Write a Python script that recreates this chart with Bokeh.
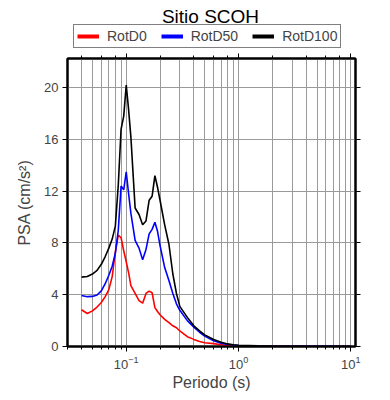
from bokeh.plotting import figure
from bokeh.layouts import column
from bokeh.models import LogAxis, LinearAxis, Legend, LegendItem, FixedTicker, LogTicker, Label
from bokeh.embed import file_html
from bokeh.resources import INLINE

periods = [0.04, 0.045, 0.05, 0.055, 0.06, 0.065, 0.07, 0.075, 0.08, 0.085, 0.09, 0.095,
           0.1, 0.105, 0.11, 0.12, 0.13, 0.14, 0.15, 0.16, 0.17, 0.18, 0.19, 0.2, 0.22,
           0.24, 0.26, 0.28, 0.3, 0.35, 0.4, 0.45, 0.5, 0.6, 0.7, 0.8, 0.9, 1.0, 1.5, 2.0,
           3.0, 4.0, 5.0, 7.0, 10.0]

rotd0 = [2.84, 2.55, 2.75, 3.05, 3.4, 3.85, 4.4, 5.4, 7.3, 8.6, 8.4, 7.4,
         6.55, 5.7, 4.7, 4.1, 3.55, 3.35, 4.1, 4.28, 4.15, 3.0, 2.7, 2.45, 2.1,
         1.85, 1.6, 1.45, 1.2, 0.76, 0.55, 0.38, 0.29, 0.22, 0.14, 0.07, 0.05, 0.04, 0.02, 0.01,
         0.008, 0.006, 0.005, 0.004, 0.003]

rotd50 = [3.94, 3.85, 3.87, 3.98, 4.3, 4.85, 5.5, 6.2, 7.2, 9.0, 12.4, 12.1,
          13.5, 11.8, 10.3, 8.2, 7.6, 6.7, 7.5, 8.7, 9.05, 9.6, 8.9, 7.8, 6.1,
          5.1, 4.1, 3.3, 2.8, 2.0, 1.5, 1.1, 0.8, 0.45, 0.26, 0.16, 0.11, 0.08, 0.04, 0.025,
          0.015, 0.01, 0.008, 0.006, 0.005]

rotd100 = [5.36, 5.41, 5.6, 5.88, 6.35, 6.95, 7.6, 8.3, 9.3, 12.5, 16.8, 17.8,
           20.2, 18.3, 16.2, 10.7, 10.2, 9.4, 9.7, 11.3, 11.6, 13.2, 12.3, 11.3, 9.4,
           7.9, 5.6, 4.1, 3.1, 2.25, 1.6, 1.2, 0.9, 0.54, 0.33, 0.2, 0.14, 0.1, 0.05, 0.03,
           0.02, 0.015, 0.01, 0.008, 0.006]

y_ticks = [0, 4, 8, 12, 16, 20]
series_names = ["RotD0", "RotD50", "RotD100"]
series_colors = ["#ff0000", "#0000ff", "#000000"]
series_values = [rotd0, rotd50, rotd100]
title_text = "Sitio SCOH"

FONT = "Liberation Sans"
GRID = "#9a9a9a"

# ---------- header: title + legend (frame aligned with main plot: x 67..355) ----------
head = figure(width=390, height=50, output_backend="svg", toolbar_location=None,
              x_axis_location=None, y_axis_location=None, x_range=(100, 200), y_range=(100, 200),
              min_border=0, title=None)
head.title_location = None
head.outline_line_color = None
head.grid.visible = False

leg_renderers = []
for vals, col in zip(series_values, series_colors):
    r = head.line(periods, vals, line_color=col, line_width=4)
    r.visible = False
    leg_renderers.append(r)

head.add_layout(Label(x=143, y=34, x_units="screen", y_units="screen", text=title_text,
                      text_align="center", text_baseline="alphabetic",
                      text_font=FONT, text_font_size="19px", text_color="black"))

legend = Legend(items=[LegendItem(label=n, renderers=[r]) for n, r in zip(series_names, leg_renderers)],
                orientation="horizontal", location=(6, 2),
                border_line_color="black", border_line_width=1.5,
                label_text_font=FONT, label_text_font_size="14px",
                glyph_width=22, glyph_height=14, label_height=14, label_standoff=8,
                spacing=14, padding=3, margin=0)
head.add_layout(legend, "center")

# ---------- main plot ----------
p = figure(width=390, height=350, x_axis_type="log", x_range=(0.03, 11), y_range=(0, 22.25),
           output_backend="svg", toolbar_location=None,
           min_border_left=67, min_border_right=35, min_border_top=8, min_border_bottom=54)

p.outline_line_color = "black"
p.outline_line_width = 2

p.xgrid.grid_line_color = GRID
p.xgrid.minor_grid_line_color = GRID
p.ygrid.grid_line_color = GRID

xa = p.xaxis[0]
xa.axis_label = "Periodo (s)"
xa.axis_label_text_font = FONT
xa.axis_label_text_font_size = "16px"
xa.axis_label_text_font_style = "normal"
xa.axis_label_standoff = 2
xa.major_label_text_font = FONT
xa.major_label_text_font_size = "13px"
xa.major_label_standoff = 4
xa.axis_line_width = 2
xa.major_tick_in = 0
xa.major_tick_out = 5
xa.minor_tick_in = 0
xa.minor_tick_out = 3

ya = p.yaxis[0]
ya.ticker = FixedTicker(ticks=y_ticks)
ya.axis_label = "PSA (cm/s²)"
ya.axis_label_text_font = FONT
ya.axis_label_text_font_size = "16px"
ya.axis_label_text_font_style = "normal"
ya.axis_label_standoff = 8
ya.major_label_text_font = FONT
ya.major_label_text_font_size = "13px"
ya.major_label_standoff = 4
ya.axis_line_width = 2
ya.major_tick_in = 0
ya.major_tick_out = 5
ya.minor_tick_line_color = None

for vals, col in zip(series_values, series_colors):
    p.line(periods, vals, line_color=col, line_width=1.6)

top = LogAxis(ticker=LogTicker(), major_label_text_font_size="1px", major_label_text_color=None,
              major_label_standoff=0, axis_line_width=2, major_tick_in=0, major_tick_out=5,
              minor_tick_in=0, minor_tick_out=3)
p.add_layout(top, "above")

right = LinearAxis(ticker=FixedTicker(ticks=y_ticks), major_label_text_font_size="1px",
                   major_label_text_color=None, major_label_standoff=0, axis_line_width=2,
                   major_tick_in=0, major_tick_out=5, minor_tick_line_color=None)
p.add_layout(right, "right")

layout = column(head, p, spacing=0)
open("out.html", "w").write(file_html(layout, INLINE))
